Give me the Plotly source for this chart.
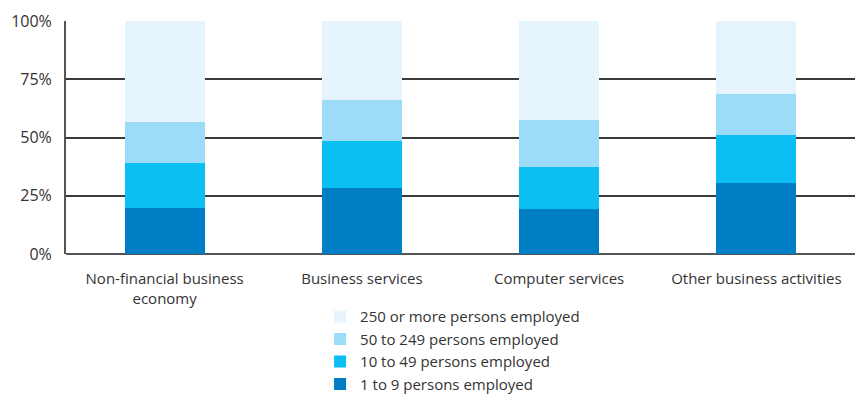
import plotly.graph_objects as go

categories = ["Non-financial business<br>economy", "Business services",
              "Computer services", "Other business activities"]
size_classes = ["1 to 9 persons employed", "10 to 49 persons employed",
                "50 to 249 persons employed", "250 or more persons employed"]
share_1_9 = [19.7, 28.3, 19.3, 30.5]
share_10_49 = [19.4, 20.2, 18.0, 20.6]
share_50_249 = [17.6, 17.7, 20.2, 17.6]
share_250_plus = [43.3, 33.8, 42.5, 31.3]
colors = ["#007ec5", "#0bbff2", "#9ddcf9", "#e6f5fd"]

series = [share_1_9, share_10_49, share_50_249, share_250_plus]

fig = go.Figure()
for i, (name, vals, col) in enumerate(zip(size_classes, series, colors)):
    fig.add_trace(go.Bar(x=categories, y=vals, name=name, legendgroup=f"g{i}",
                         marker=dict(color=col, line=dict(width=0))))

font_family = "Open Sans, Noto Sans, sans-serif"
fig.update_layout(
    width=855, height=401,
    barmode="stack", bargap=0.595,
    margin=dict(l=66, r=0, t=21, b=0, autoexpand=False),
    paper_bgcolor="white", plot_bgcolor="white",
    font=dict(family=font_family, size=15, color="#333333"),
    showlegend=True,
    legend=dict(orientation="v", traceorder="reversed",
                x=0.322, xanchor="left", y=0.002, yanchor="bottom",
                font=dict(size=15, color="#333333"),
                itemwidth=30, tracegroupgap=1,
                bgcolor="rgba(0,0,0,0)"),
    xaxis=dict(showgrid=False, showline=False, ticks="",
               ticklabelstandoff=14, automargin=False,
               tickfont=dict(size=15, color="#333333")),
    yaxis=dict(domain=[0.3868, 1], range=[0, 100],
               tickvals=[0, 25, 50, 75, 100],
               ticktext=["0%", "25%", "50%", "75%", "100%"],
               showgrid=True, gridcolor="#3a3a3a", gridwidth=1.5,
               zeroline=True, zerolinecolor="#555555", zerolinewidth=2,
               showline=True, linecolor="#555555", linewidth=2,
               ticks="", ticklen=0, ticklabelstandoff=9, automargin=False,
               tickfont=dict(size=16, color="#333333")),
)

fig.write_html("out.html")
